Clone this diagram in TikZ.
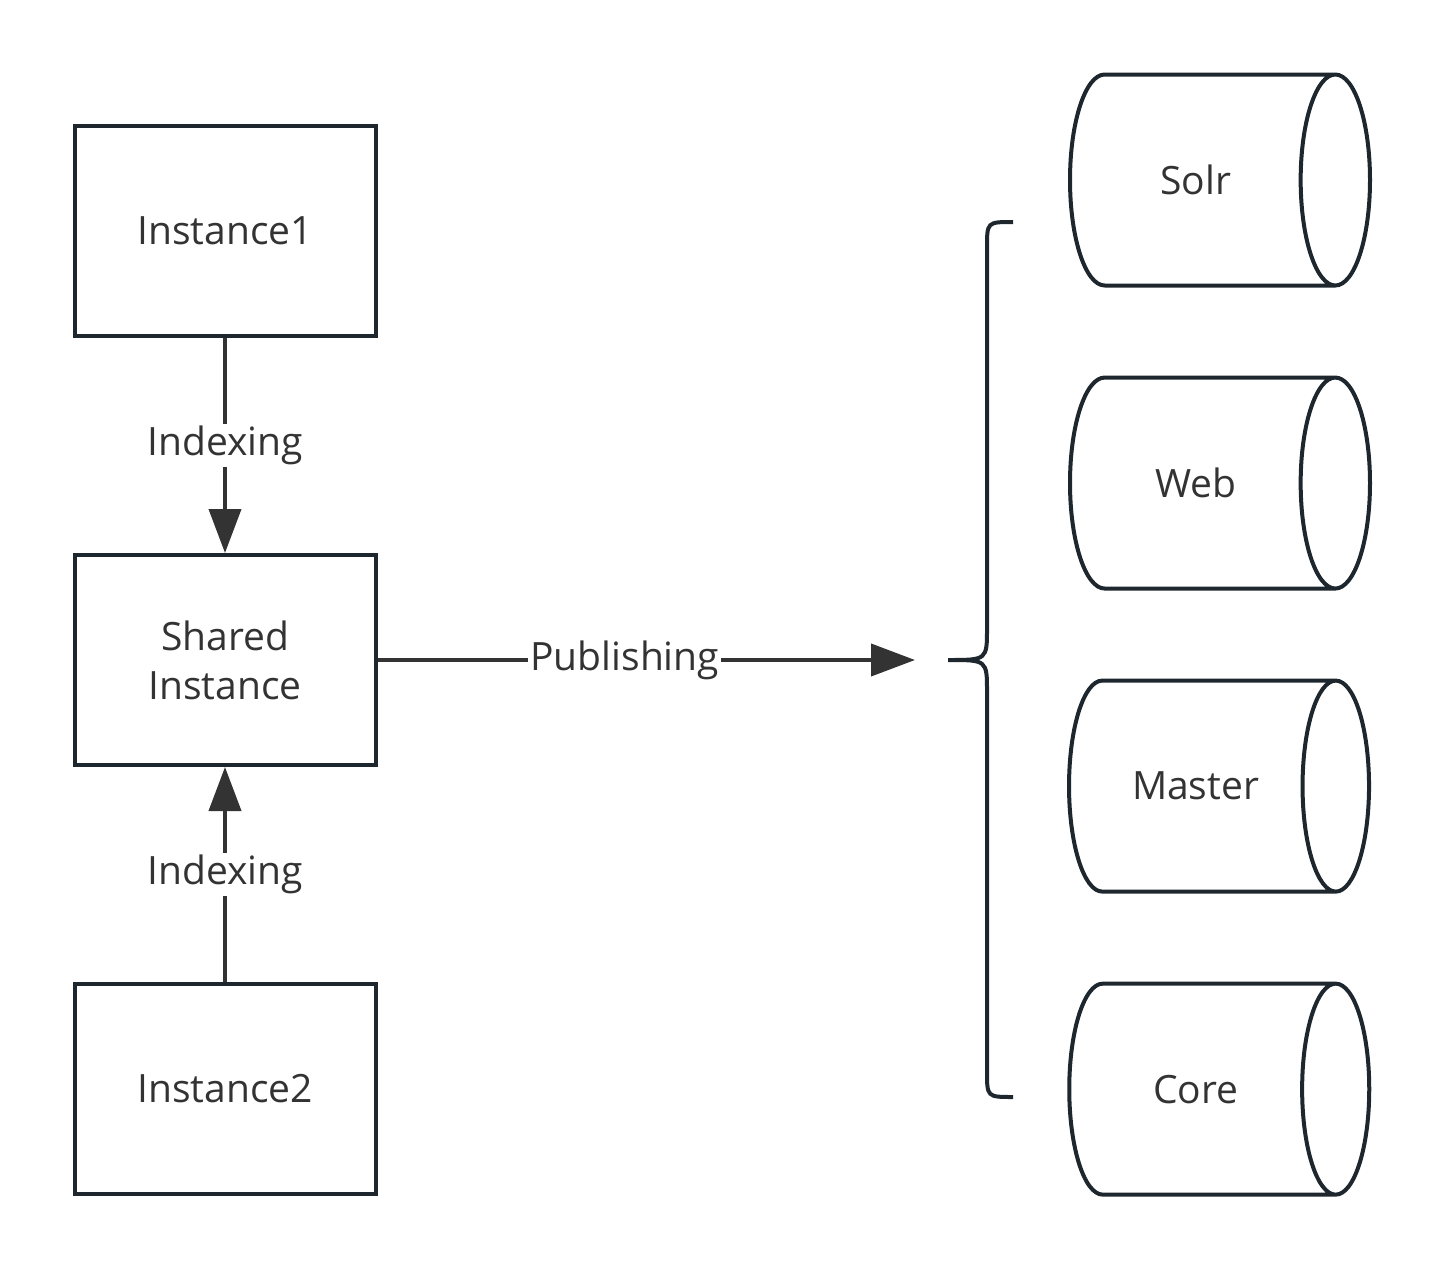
\documentclass[tikz,border=0pt]{standalone}
\usepackage{fontspec}
\setmainfont{Open Sans}
\usetikzlibrary{shapes.geometric, arrows.meta, positioning}
\definecolor{edgecol}{HTML}{1F272E}
\definecolor{inkcol}{HTML}{333333}
\tikzstyle{instance} = [rectangle, minimum width=150.5pt, minimum height=105pt, text centered, align=center, draw=edgecol, line width=2pt, text=inkcol, font=\fontsize{19.5}{24.5}\selectfont]
\tikzstyle{store} = [cylinder, shape border rotate=0, aspect=1.6, minimum width=105.5pt, minimum height=150pt, text centered, draw=edgecol, line width=2pt, text=inkcol, font=\fontsize{19.5}{24.5}\selectfont]
\tikzstyle{arrow} = [line width=2pt, draw=inkcol, -{Triangle[length=22pt,width=16pt]}]
\tikzstyle{tag} = [fill=white, text=inkcol, inner sep=1pt, font=\fontsize{19.5}{24.5}\selectfont]
\tikzstyle{brace} = [line width=2pt, draw=edgecol]

\begin{document}
\begin{tikzpicture}[x=0.5pt, y=-0.5pt, node distance=107.5pt]
\useasboundingbox (0,0) rectangle (1446,1269);

% Instances
\node (inst1) [instance] at (225,231) {Instance1};
\node (shared) [instance, below=of inst1] {Shared\\Instance};
\node (inst2) [instance, below=of shared] {Instance2};

% Stores
\node (solr) [store, anchor=shape center] at (1220,180) {Solr};
\node (web) [store, below=44pt of solr] {Web};
\node (master) [store, below=44pt of web] {Master};
\node (core) [store, below=44pt of master] {Core};

% Arrows
\coordinate (pubend) at (915,660);
\draw [arrow] (inst1) -- node[tag] {Indexing} (shared);
\draw [arrow] (inst2) -- node[tag] {Indexing} (shared);
\draw [arrow] (shared) -- node[tag, pos=0.46] {Publishing} (pubend);

% Brace
\coordinate (bracetop) at (1013,222);
\coordinate (bracetip) at (948,660);
\coordinate (bracebot) at (1013,1097);
\draw [brace] (bracetop) .. controls (987,222) .. (987,248) -- (987,628)
  .. controls (987,660) .. (bracetip) .. controls (987,660) .. (987,692)
  -- (987,1071) .. controls (987,1097) .. (bracebot);

\end{tikzpicture}
\end{document}
